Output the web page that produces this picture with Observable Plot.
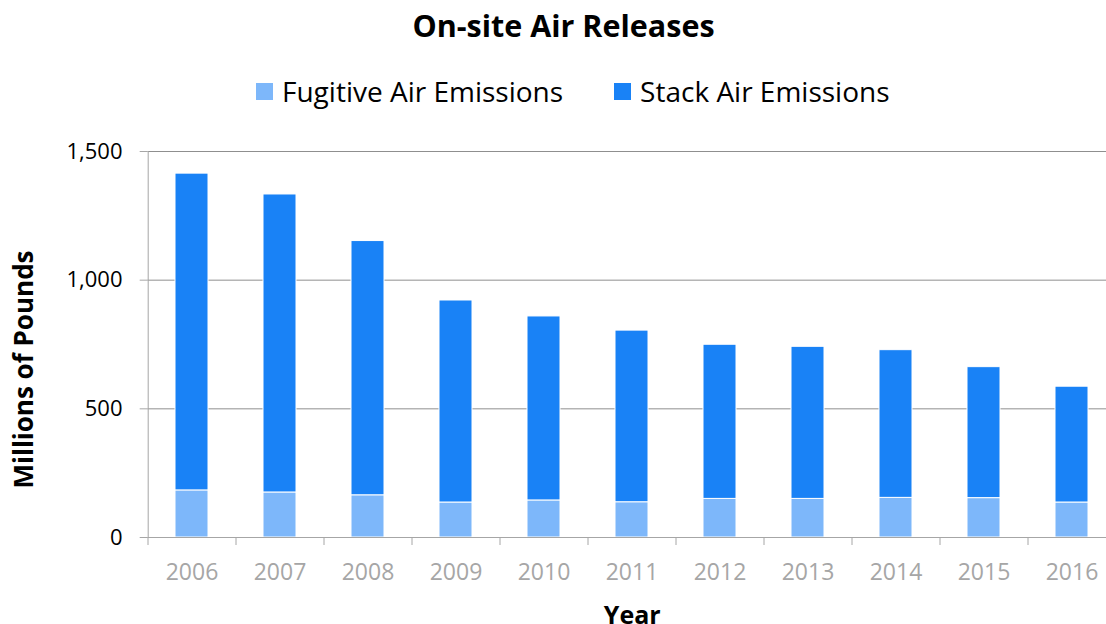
<!DOCTYPE html>
<html><head><meta charset="utf-8">
<script src="https://cdn.jsdelivr.net/npm/d3@7"></script>
<script src="https://cdn.jsdelivr.net/npm/@observablehq/plot@0.6"></script>
<style>
html,body{margin:0;padding:0;background:#fff;overflow:hidden;}
body{font-family:"Open Sans",sans-serif;width:1106px;height:624px;}
#title{height:50px;width:1127px;text-align:center;font-weight:bold;font-size:30.5px;line-height:50px;color:#000;}
#legend{height:82px;display:flex;align-items:center;padding-left:256px;}
.lg-swatches{margin:0 !important;font-family:"Open Sans",sans-serif !important;font-size:28px !important;color:#000;}
.lg-swatch{margin-right:51px !important;}
.lg-swatch>svg{margin-right:9px !important;}
</style>
</head><body>
<div id="title"></div>
<div id="legend"></div>
<div id="chart"></div>
<script>
const titleText = "On-site Air Releases";
const yLabel = "Millions of Pounds";
const xLabel = "Year";
const years = ["2006","2007","2008","2009","2010","2011","2012","2013","2014","2015","2016"];
const types = ["Fugitive Air Emissions","Stack Air Emissions"];
const colors = ["#7db7fa","#1982f6"];
const fugitive = [183,175,164,136,144,137,150,150,154,153,136];
const stack = [1231,1158,988,785,715,667,599,591,574,509,450];
const yTicks = [0,500,1000,1500];
const gridValues = [500,1000,1500];

const rows = [];
years.forEach((yr,i)=>{
  rows.push({year:yr,type:types[0],value:fugitive[i]});
  rows.push({year:yr,type:types[1],value:stack[i]});
});

document.getElementById("title").textContent = titleText;

const legend = Plot.legend({
  color:{domain:types, range:colors},
  swatchSize:17,
  className:"lg"
});
document.getElementById("legend").append(legend);

const W = 1106, left = 147.7, right = 1115.7;
const step = (right-left)/years.length;
const fmt = d3.format(",d");

const chart = Plot.plot({
  width:W, height:492,
  marginTop:19, marginBottom:87, marginLeft:left, marginRight:W-right,
  style:{fontFamily:"Open Sans", background:"white", color:"black"},
  x:{type:"band", domain:years, paddingInner:0.625, paddingOuter:0.3125},
  y:{domain:[0,1500]},
  color:{domain:types, range:colors},
  marks:[
    Plot.ruleY(gridValues,{stroke:"#8f8f8f"}),
    Plot.barY(rows,{x:"year", y:"value", fill:"type", stroke:"white", strokeWidth:1}),
    Plot.frame({anchor:"left", stroke:"#a6a6a6"}),
    Plot.ruleY([0],{stroke:"#a6a6a6"}),
    Plot.ruleX(years,{x:d=>d, dx:-step/2, y1:0, y2:0, insetBottom:-8, stroke:"#a6a6a6"}),
    Plot.axisY({ticks:yTicks, tickSize:8, tickPadding:17.7, tickFormat:fmt, stroke:"#a6a6a6", fill:"black", fontSize:22, label:null}),
    Plot.axisX({tickSize:0, tickPadding:26, fill:"#a6a6a6", fontSize:23, label:null}),
    Plot.text([yLabel],{frameAnchor:"left", textAnchor:"middle", rotate:-90, dx:-124, dy:25, fontWeight:"bold", fontSize:26}),
    Plot.text([xLabel],{frameAnchor:"bottom", lineAnchor:"top", dy:69, fontWeight:"bold", fontSize:25})
  ]
});
document.getElementById("chart").append(chart);
</script>
</body></html>
